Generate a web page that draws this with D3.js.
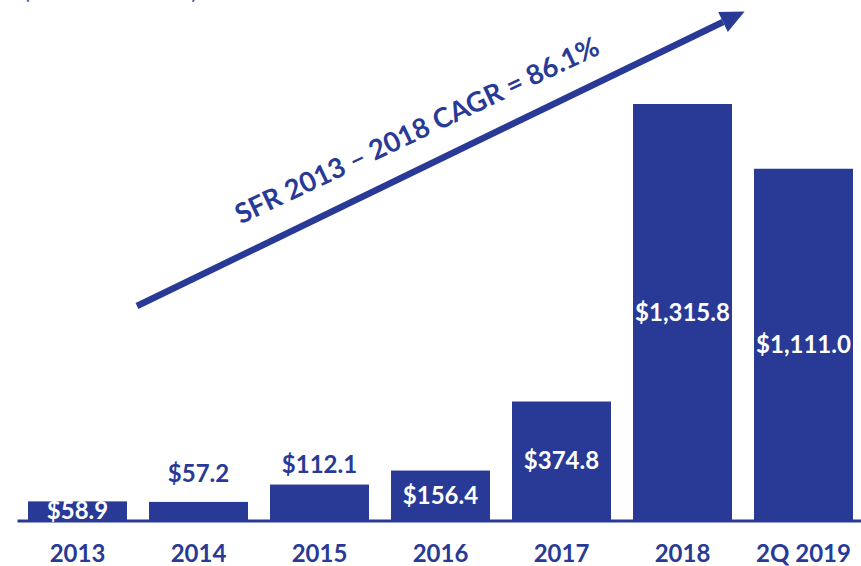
<!DOCTYPE html>
<html>
<head>
<meta charset="utf-8">
<script src="https://cdn.jsdelivr.net/npm/d3@7"></script>
<style>
    body { margin: 0; background: #fff; }
    svg { display: block; }
</style>
</head>
<body>
<div id="chart"></div>
<script>
// SFR volume by period ($ in millions)
const periods = ['2013', '2014', '2015', '2016', '2017', '2018', '2Q 2019'];
const volumes = [58.9, 57.2, 112.1, 156.4, 374.8, 1315.8, 1111.0];
const valueLabels = ['$58.9', '$57.2', '$112.1', '$156.4', '$374.8', '$1,315.8', '$1,111.0'];
const cagrLabel = 'SFR 2013 \u2013 2018 CAGR = 86.1%';

const data = periods.map((p, i) => ({ period: p, value: volumes[i], label: valueLabels[i] }));

const W = 861, H = 566;
const navy = '#283a96';
const font = 'Lato, "Open Sans", sans-serif';

const svg = d3.select('#chart')
    .append('svg')
    .attr('width', W)
    .attr('height', H);

// Unit note, cut off by the top edge as in the slide crop
svg.append('text')
    .attr('x', 24)
    .attr('y', -1)
    .style('font-family', font)
    .style('font-size', '21px')
    .style('fill', '#3b4ba0')
    .text('(Dollars in millions)');

const x = d3.scaleBand()
    .domain(periods)
    .range([17, 864])
    .paddingInner(0.182)
    .paddingOuter(0.091);

const baseY = 520;
const y = d3.scaleLinear()
    .domain([0, d3.max(volumes)])
    .range([baseY, 104]);

// Bars
svg.selectAll('.bar')
    .data(data)
    .enter()
    .append('rect')
    .attr('class', 'bar')
    .attr('x', d => x(d.period))
    .attr('y', d => y(d.value))
    .attr('width', x.bandwidth())
    .attr('height', d => baseY - y(d.value))
    .attr('fill', navy);

// Axis (line + category labels)
const axis = svg.append('g')
    .attr('transform', `translate(0, ${baseY + 0.5})`)
    .call(d3.axisBottom(x).tickSize(0).tickSizeOuter(0));

axis.select('.domain')
    .attr('stroke', navy)
    .attr('stroke-width', 3);

axis.selectAll('text')
    .attr('y', 41)
    .attr('dy', 0)
    .style('font-family', font)
    .style('font-weight', 'bold')
    .style('font-size', '24px')
    .style('fill', navy);

// Value labels: most sit inside the bar, two small ones above it
const aboveOffset = { '2014': 20, '2015': 12 };

svg.selectAll('.label')
    .data(data)
    .enter()
    .append('text')
    .attr('class', 'label')
    .attr('x', d => x(d.period) + x.bandwidth() / 2)
    .attr('y', d => d.period in aboveOffset
        ? y(d.value) - aboveOffset[d.period]
        : (y(d.value) + baseY) / 2)
    .attr('dy', d => d.period in aboveOffset ? 0 : '0.36em')
    .attr('text-anchor', 'middle')
    .style('font-family', font)
    .style('font-weight', 'bold')
    .style('font-size', '24px')
    .style('fill', d => d.period in aboveOffset ? navy : '#fff')
    .text(d => d.label);

// Growth arrow with CAGR note
const start = [137, 306], end = [723, 22];
const ang = Math.atan2(end[1] - start[1], end[0] - start[0]);
const ux = Math.cos(ang), uy = Math.sin(ang);

svg.append('line')
    .attr('x1', start[0])
    .attr('y1', start[1])
    .attr('x2', end[0])
    .attr('y2', end[1])
    .attr('stroke', navy)
    .attr('stroke-width', 6.5);

const half = 11, len = 24;
svg.append('polygon')
    .attr('points', [
        [end[0] - uy * half, end[1] + ux * half],
        [end[0] + ux * len, end[1] + uy * len],
        [end[0] + uy * half, end[1] - ux * half]
    ].map(p => p.join(',')).join(' '))
    .attr('fill', navy);

svg.append('text')
    .attr('transform', `translate(421, 139) rotate(${ang * 180 / Math.PI + 0.5})`)
    .attr('text-anchor', 'middle')
    .style('font-family', font)
    .style('font-weight', 'bold')
    .style('font-size', '27.5px')
    .style('fill', navy)
    .text(cagrLabel);
</script>
</body>
</html>
